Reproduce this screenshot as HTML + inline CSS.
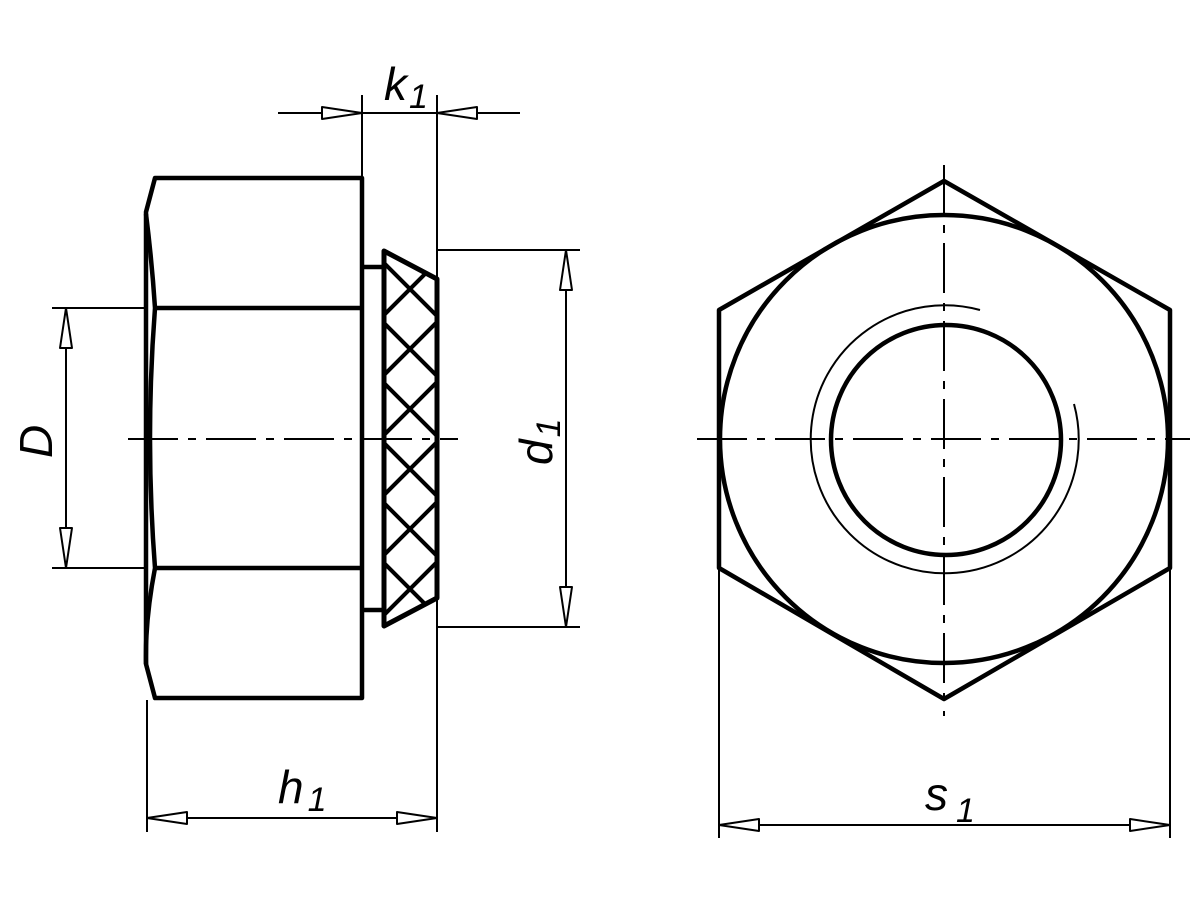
<!DOCTYPE html>
<html><head><meta charset="utf-8"><style>html,body{margin:0;padding:0;background:#fff}svg{display:block}</style></head>
<body>
<svg width="1200" height="900" viewBox="0 0 1200 900" xmlns="http://www.w3.org/2000/svg">
<defs>
<clipPath id="kc"><path d="M384,251 L437,279 L437,598 L384,626 Z"/></clipPath>
</defs>
<g fill="none" stroke="#000" stroke-linejoin="round">
<g stroke-width="4.5">
<path d="M155,178 L362,178 L362,698 L155,698 L146,664 L146,212 Z"/>
<line x1="155" y1="308" x2="362" y2="308"/>
<line x1="155" y1="568" x2="362" y2="568"/>
<path d="M146,214 Q152,262 155,308 Q145,438 155,568 Q145,620 146,664"/>
<line x1="362" y1="267" x2="384" y2="267"/>
<line x1="362" y1="610" x2="384" y2="610"/>
<path d="M384,251 L437,279 L437,598 L384,626 Z" stroke-width="5"/>
</g>
<g clip-path="url(#kc)" stroke-width="4">
<path d="M350,169 L480,299 M350,229 L480,359 M350,289 L480,419 M350,349 L480,479 M350,409 L480,539 M350,469 L480,599 M350,529 L480,659 M350,589 L480,719 M350,109 L480,239
M350,709 L480,579 M350,649 L480,519 M350,589 L480,459 M350,529 L480,399 M350,469 L480,339 M350,409 L480,279 M350,349 L480,219 M350,289 L480,159 M350,769 L480,639"/>
</g>
<g stroke-width="2" stroke-dasharray="50,10,8,10">
<line x1="128" y1="439" x2="458" y2="439"/>
<line x1="697" y1="439" x2="1190" y2="439"/>
<line x1="944" y1="165" x2="944" y2="716"/>
</g>
<g stroke-width="4.5">
<polygon points="944,181 1170,310 1170,568 944,699 719,568 719,310"/>
<circle cx="944" cy="439" r="224"/>
<circle cx="946" cy="440" r="115"/>
</g>
<path d="M980,310 A134,134 0 1 0 1074,404" stroke-width="2"/>
<g stroke-width="2">
<line x1="52" y1="308" x2="145" y2="308"/>
<line x1="52" y1="568" x2="145" y2="568"/>
<line x1="66" y1="308" x2="66" y2="568"/>
<line x1="437" y1="250" x2="580" y2="250"/>
<line x1="437" y1="627" x2="580" y2="627"/>
<line x1="566" y1="250" x2="566" y2="627"/>
<line x1="362" y1="95" x2="362" y2="178"/>
<line x1="437" y1="95" x2="437" y2="832"/>
<line x1="278" y1="113" x2="520" y2="113"/>
<line x1="147" y1="700" x2="147" y2="832"/>
<line x1="147" y1="818" x2="437" y2="818"/>
<line x1="719" y1="570" x2="719" y2="838"/>
<line x1="1170" y1="570" x2="1170" y2="838"/>
<line x1="719" y1="825" x2="1170" y2="825"/>
</g>
<g stroke-width="2" fill="#fff">
<polygon points="66,308 60,348 72,348"/>
<polygon points="66,568 60,528 72,528"/>
<polygon points="566,250 560,290 572,290"/>
<polygon points="566,627 560,587 572,587"/>
<polygon points="362,113 322,107 322,119"/>
<polygon points="437,113 477,107 477,119"/>
<polygon points="147,818 187,812 187,824"/>
<polygon points="437,818 397,812 397,824"/>
<polygon points="719,825 759,819 759,831"/>
<polygon points="1170,825 1130,819 1130,831"/>
</g>
</g>
<g font-family="Liberation Sans, sans-serif" font-style="italic" fill="#000">
<text x="0" y="0" font-size="46" transform="translate(52,458) rotate(-90)">D</text>
<text x="0" y="0" font-size="46" transform="translate(552,465) rotate(-90)">d<tspan font-size="34" dx="2" dy="8">1</tspan></text>
<text x="384" y="100" font-size="46">k<tspan font-size="34" dx="2" dy="8">1</tspan></text>
<text x="278" y="803" font-size="46">h<tspan font-size="34" dx="4" dy="8">1</tspan></text>
<text x="925" y="810" font-size="46">s<tspan font-size="34" dx="8" dy="12">1</tspan></text>
</g>
</svg>
</body></html>
